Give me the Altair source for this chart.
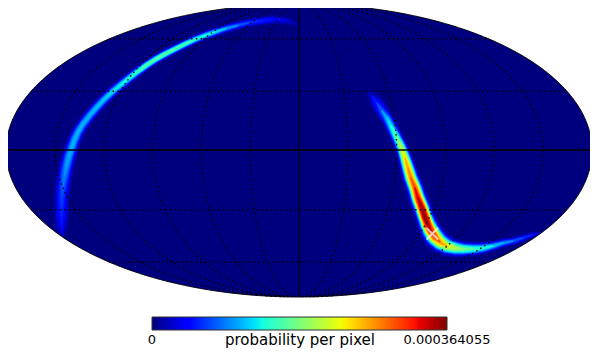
import altair as alt
import numpy as np
import pandas as pd

# Map units: Mollweide plane with semi-axes A and B
A, B = 293.0, 146.5

arc1_x = [-236,-237.5,-237.5,-237.5,-237,-236,-234.5,-232.5,-230,-228,-225,-221,-216,-209,-202,-195,-187,-179,-171,-162,-153,-143,-134,-124,-114,-104,-94,-84,-73,-61,-49,-37,-27,-19,-11,-5,-1]
arc1_y = [-85,-75.5,-65.5,-55.5,-45.5,-35.5,-25.5,-15.5,-5.5,0.5,9.5,18.5,26.5,35.5,43.5,51,58.5,65,71.5,78.5,85,91.5,96.5,101.5,106.5,111,115,118.5,122,125.2,128,129.8,130.9,130.7,129.5,127.5,125.5]
arc1_peak = [.012,.1,.15,.17,.19,.22,.25,.28,.3,.3,.31,.31,.31,.31,.32,.33,.35,.37,.39,.42,.45,.46,.46,.45,.44,.40,.38,.34,.28,.22,.18,.16,.14,.1,.07,.04,.012]
arc1_sigma = [3.5,4,4,4,4,4,4,3.9,3.7,3.6,3.4,3.2,3.1,3,2.9,2.8,2.7,2.6,2.5,2.4,2.3,2.2,2.2,2.1,2.1,2.1,2.1,2.1,2.1,2.1,2.2,2.2,2.3,2.3,2.3,2.3,2.3]

arc2_x = [70,73,78,83,88,92,96,100,103,106,109,112,116,119,123,126,129,132,136,141,148,156,164,174,184,194,204,214,224,233,241]
arc2_y = [59.5,54.5,47.5,39.5,32.5,24.5,16.5,8.5,1.5,-7.5,-17.5,-27.5,-37.5,-47.5,-57.5,-66.5,-74.5,-80.5,-86.5,-91.5,-95.5,-97.5,-98.5,-98.5,-97.5,-95.5,-92.5,-90.5,-87.5,-84.5,-82.5]
arc2_peak = [.012,.06,.15,.22,.3,.36,.42,.5,.58,.66,.74,.78,.84,.92,.98,1.0,.97,.9,.84,.74,.62,.55,.48,.42,.38,.32,.27,.22,.18,.1,.012]
arc2_sigma = [3.5,3.8,3.8,3.4,3.2,3.1,3.1,3.1,3.2,3.4,3.7,3.9,4,4.1,4.2,4.2,4.5,4.9,5.1,4.9,4.5,4.1,3.7,3.3,2.9,2.5,2.2,2,1.9,1.8,1.6]

marker_x, marker_y = [133.3], [-83.2]
labels_left = ["0"]
label_mid = ["probability per pixel"]
labels_right = ["0.000364055"]
PMAX = 0.000364055
LON_STEP = 30

def jet(v):
    r = np.interp(v, [0, .35, .66, .89, 1], [0, 0, 1, 1, .5])
    g = np.interp(v, [0, .125, .375, .64, .91, 1], [0, 0, 1, 1, 0, 0])
    b = np.interp(v, [0, .11, .34, .65, 1], [.5, 1, 1, 0, 0])
    return "#%02x%02x%02x" % (int(r*255), int(g*255), int(b*255))

xs = alt.Scale(domain=[-291, 291], range=[0, 582], nice=False, zero=False)
ys = alt.Scale(domain=[-193.5, 142.5], range=[336, 0], nice=False, zero=False)
X = lambda f="x": alt.X(f"{f}:Q", scale=xs, axis=None)
Y = lambda f="y": alt.Y(f"{f}:Q", scale=ys, axis=None)

# Disc
t = np.linspace(0, np.pi, 241)
disc = pd.DataFrame({"x": -A*np.cos(t), "y": B*np.sin(t), "y2": -B*np.sin(t)})
disc_layer = alt.Chart(disc).mark_area(fill="#00007f").encode(
    x=X(), y=Y(), y2=alt.Y2("y2:Q"))

# Contour stacks of the two arcs
levels = np.linspace(0.015, 1.0, 48)
heat_layers = []
for ax, ay, ap, asg in [(arc1_x, arc1_y, arc1_peak, arc1_sigma),
                        (arc2_x, arc2_y, arc2_peak, arc2_sigma)]:
    rows = []
    n_pts = len(ax)
    for L in levels:
        if L >= max(ap):
            continue
        widths = [2.2*s*(2*np.log(p/L))**0.4 if p > L else 0.0 for p, s in zip(ap, asg)]
        for i in range(n_pts):
            near = widths[i] > 0 or (i > 0 and widths[i-1] > 0) or (i < n_pts-1 and widths[i+1] > 0)
            if near:
                rows.append({"x": ax[i], "y": ay[i], "w": widths[i], "i": i, "c": jet(L)})
    heat_layers.append(alt.Chart(pd.DataFrame(rows)).mark_trail().encode(
        x=X(), y=Y(), size=alt.Size("w:Q", scale=None, legend=None),
        color=alt.Color("c:N", scale=None, legend=None),
        order=alt.Order("i:Q")))

# Graticule
def theta_of(lat):
    th = lat
    for _ in range(60):
        th = th - (2*th + np.sin(2*th) - np.pi*np.sin(lat)) / (2 + 2*np.cos(2*th) + 1e-9)
    return th

grat = []
lats = np.radians(np.arange(-89.0, 89.5, 1.0))
for lon in range(-150, 151, LON_STEP):
    if lon == 0:
        continue
    for i, la in enumerate(lats):
        th = theta_of(la)
        grat.append({"x": A*lon/180*np.cos(th), "y": B*np.sin(th), "g": f"m{lon}", "i": i})
for lat in [-60, -30, 30, 60]:
    th = theta_of(np.radians(lat))
    for i, s in enumerate([-1, 1]):
        grat.append({"x": s*A*np.cos(th), "y": B*np.sin(th), "g": f"p{lat}", "i": i})
grat_layer = alt.Chart(pd.DataFrame(grat)).mark_line(
    color="black", strokeWidth=1.4, strokeDash=[1.5, 3.3]).encode(
    x=X(), y=Y(), detail="g:N", order="i:Q")

solid = pd.DataFrame({"x": [-A, A, 0, 0], "y": [0.5, 0.5, B, -B], "g": ["e", "e", "c", "c"], "i": [0, 1, 0, 1]})
equator_layer = alt.Chart(solid[solid.g == "e"]).mark_line(color="black", strokeWidth=1.3).encode(
    x=X(), y=Y(), order="i:Q")
central_layer = alt.Chart(solid[solid.g == "c"]).mark_line(color="#00002a", strokeWidth=1.5).encode(
    x=X(), y=Y(), order="i:Q")

t2 = np.linspace(0, 2*np.pi, 361)
edge = pd.DataFrame({"x": A*np.cos(t2), "y": B*np.sin(t2), "i": np.arange(361)})
edge_layer = alt.Chart(edge).mark_line(color="black", strokeWidth=0.9).encode(
    x=X(), y=Y(), order="i:Q")

marker_layer = alt.Chart(pd.DataFrame({"x": marker_x, "y": marker_y})).mark_point(
    shape="M -1 -1 L 1 1 M -1 1 L 1 -1", filled=False, stroke="#ffffff", strokeWidth=2,
    opacity=0.75, size=135).encode(x=X(), y=Y())

# Colour bar
n = 295
cb = pd.DataFrame({"p": np.arange(n)/n*PMAX, "p2": np.minimum(np.arange(n)+2, n)/n*PMAX,
                   "c": [jet(i/(n-1)) for i in range(n)]})
cbs = alt.Scale(domain=[0, PMAX], range=[144, 439], nice=False, zero=False)
cb_layer = alt.Chart(cb).mark_rect().encode(
    x=alt.X("p:Q", scale=cbs, axis=None), x2="p2:Q",
    y=alt.value(309), y2=alt.value(322),
    color=alt.Color("c:N", scale=None, legend=None))
cb_frame = alt.Chart(pd.DataFrame({"p": [0], "p2": [PMAX]})).mark_rect(
    fillOpacity=0, stroke="#333333", strokeWidth=1).encode(
    x=alt.X("p:Q", scale=cbs, axis=None), x2="p2:Q",
    y=alt.value(309), y2=alt.value(322))

def text(label, px, py, size):
    return alt.Chart(pd.DataFrame({"t": label})).mark_text(
        font="DejaVu Sans", fontSize=size, color="black", align="center", baseline="alphabetic").encode(
        x=alt.value(px), y=alt.value(py), text="t:N")

chart = alt.layer(
    disc_layer, *heat_layers, grat_layer, central_layer, equator_layer, edge_layer, marker_layer,
    cb_layer, cb_frame,
    text(labels_left, 144, 335.5, 13), text(label_mid, 292, 337, 15), text(labels_right, 439, 335.5, 13),
).resolve_scale(x="independent", y="independent", color="independent", size="independent").properties(
    width=582, height=336,
    padding={"left": 0, "right": 0, "top": 0, "bottom": 6},
    autosize=alt.AutoSizeParams(type="none"),
    background="white",
).configure_view(stroke=None)

chart.save("out.html", embed_options={"renderer": "svg", "actions": False})
